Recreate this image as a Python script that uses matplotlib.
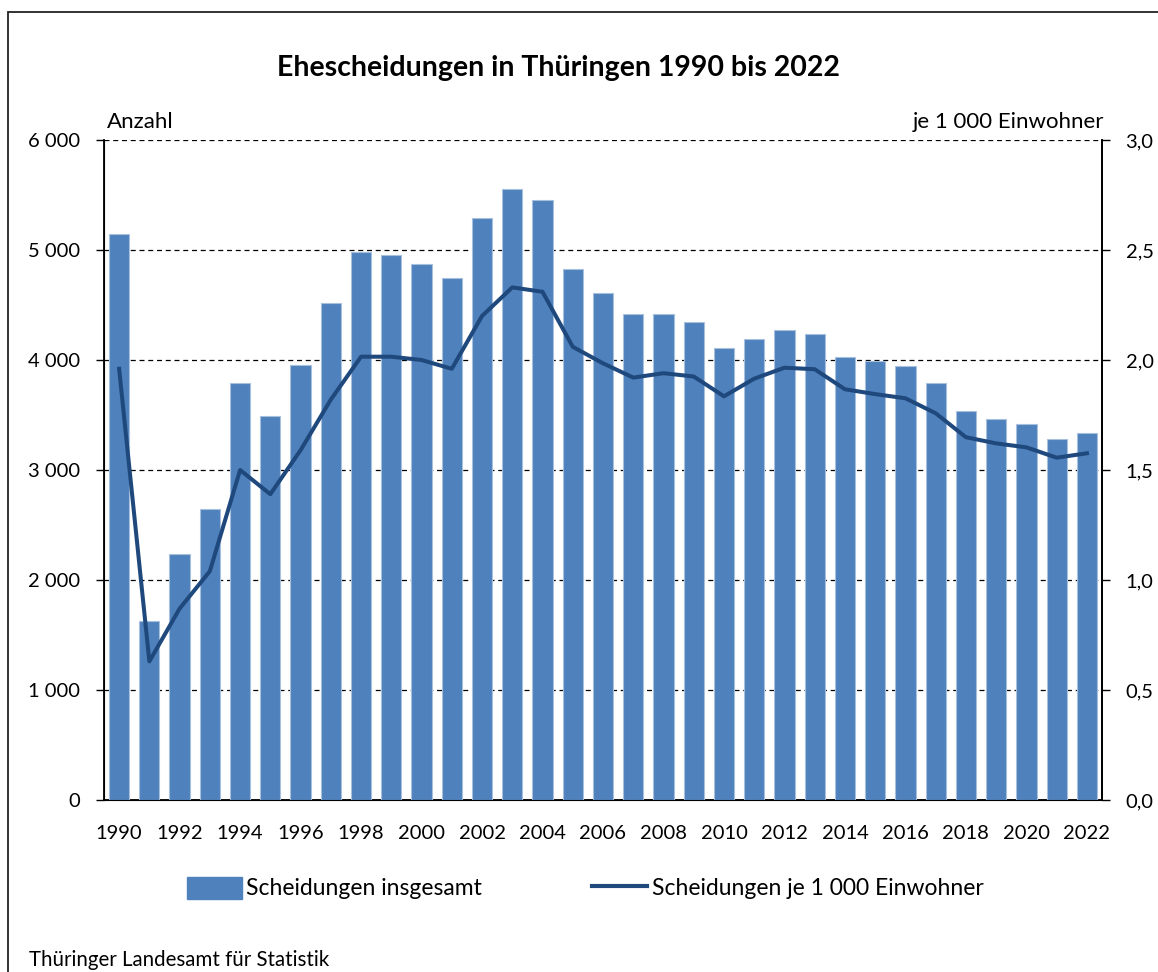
import matplotlib.pyplot as plt
from matplotlib.patches import Rectangle
from matplotlib.lines import Line2D
from matplotlib.ticker import FuncFormatter

plt.rcParams['font.family'] = ['Lato', 'DejaVu Sans']

# Data
years = list(range(1990, 2023))
total = [5145, 1625, 2232, 2644, 3789, 3491, 3952, 4521, 4982, 4955,
         4873, 4742, 5294, 5551, 5451, 4830, 4612, 4415, 4415, 4342,
         4109, 4191, 4270, 4236, 4030, 3991, 3948, 3788, 3533, 3461,
         3415, 3282, 3333]
per_1000 = [1.96, 0.63, 0.87, 1.04, 1.50, 1.39, 1.59, 1.82, 2.015, 2.015,
            2.00, 1.96, 2.20, 2.33, 2.31, 2.06, 1.985, 1.92, 1.94, 1.925,
            1.835, 1.915, 1.965, 1.958, 1.867, 1.845, 1.826, 1.758, 1.649, 1.621,
            1.603, 1.556, 1.576]

bar_color = '#4F81BD'
line_color = '#1F497D'

fig = plt.figure(figsize=(11.58, 9.72), dpi=100)
ax = fig.add_axes([104 / 1158, 172 / 972, 998 / 1158, 660 / 972])

ax.bar(years, total, width=0.67, color=bar_color, edgecolor='#A7C0DE',
       linewidth=0.8, zorder=3)
ax.set_xlim(1989.5, 2022.5)
ax.set_ylim(0, 6000)
ax.set_yticks(range(0, 6001, 1000))
ax.yaxis.set_major_formatter(FuncFormatter(lambda v, p: f"{int(v):,}".replace(",", " ")))
ax.grid(axis='y', color='black', linestyle=(0, (4, 3)), linewidth=0.9, zorder=0)
ax.set_xticks(years[::2])
ax.tick_params(axis='x', length=0, pad=18, labelsize=14.5)
ax.tick_params(axis='y', direction='out', length=6, width=1, labelsize=14.5, pad=11)
ax.spines['top'].set_visible(False)
ax.spines['left'].set_linewidth(1.3)
ax.spines['bottom'].set_linewidth(1.3)
ax.spines['right'].set_linewidth(1.3)

ax2 = ax.twinx()
ax2.plot(years, per_1000, color=line_color, linewidth=2.9, zorder=4)
ax2.set_ylim(0, 3.0)
ax2.set_yticks([0, 0.5, 1.0, 1.5, 2.0, 2.5, 3.0])
ax2.yaxis.set_major_formatter(FuncFormatter(lambda v, p: f"{v:.1f}".replace(".", ",")))
ax2.tick_params(axis='y', direction='out', length=6, width=1, labelsize=14.5, pad=11)
ax2.spines['top'].set_visible(False)
ax2.spines['right'].set_linewidth(1.3)

fig.text(558 / 1158, 1 - 68 / 972, 'Ehescheidungen in Thüringen 1990 bis 2022',
         ha='center', va='center', fontsize=20.5, fontweight='bold')
fig.text(107 / 1158, 1 - 122 / 972, 'Anzahl', ha='left', va='center', fontsize=16)
fig.text(1104 / 1158, 1 - 122 / 972, 'je 1 000 Einwohner', ha='right', va='center', fontsize=16)

handles = [Rectangle((0, 0), 1, 1, color=bar_color),
           Line2D([0], [0], color=line_color, linewidth=3)]
fig.legend(handles, ['Scheidungen insgesamt', 'Scheidungen je 1 000 Einwohner'],
           loc='center', bbox_to_anchor=(585 / 1158, 1 - 888 / 972), ncol=2,
           frameon=False, fontsize=16.5, handlelength=2.4, handleheight=1.1,
           handletextpad=0.2, columnspacing=4.8)

fig.text(29 / 1158, 1 - 960 / 972, 'Thüringer Landesamt für Statistik',
         ha='left', va='center', fontsize=14.8)

fig.patches.append(Rectangle((8 / 1158, -0.1), 1.2, 1 - 12 / 972 + 0.1,
                             transform=fig.transFigure, fill=False,
                             edgecolor='#222222', linewidth=1.3))

fig.savefig('out.png', dpi=100)
